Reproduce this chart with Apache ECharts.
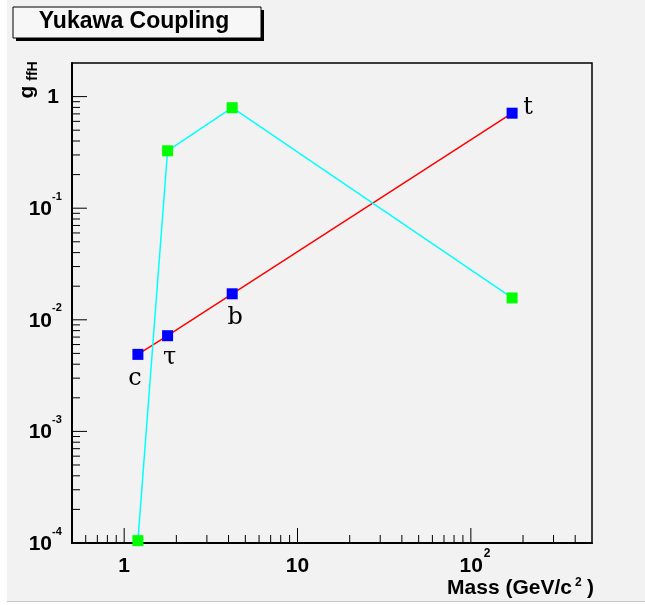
<!DOCTYPE html>
<html>
<head>
<meta charset="utf-8">
<script src="https://cdn.jsdelivr.net/npm/echarts@6/dist/echarts.min.js"></script>
<style>
html,body{margin:0;padding:0;background:#ffffff;}
#bg{position:absolute;left:7px;top:0;width:638px;height:601px;background:#f2f2f2;border-bottom:1px solid #c8c8c8;}
#chart{position:absolute;left:0;top:0;width:645px;height:605px;}
</style>
</head>
<body>
<div id="bg"></div>
<div id="chart"></div>
<script>
// ---- data ----
const fermionNames = ['c', 'τ', 'b', 't'];
const fermionMass = [1.2, 1.78, 4.2, 173];
const yukawaCoupling = [0.0049, 0.0072, 0.0171, 0.71];
const greenMass = [1.2, 1.78, 4.2, 173];
const greenValues = [0.000105, 0.327, 0.795, 0.0157];
const xTickValues = [0.6,0.7,0.8,0.9,1,2,3,4,5,6,7,8,9,10,20,30,40,50,60,70,80,90,100,200,300,400];
const yTickValues = [0.0001,0.0002,0.0003,0.0004,0.0005,0.0006,0.0007,0.0008,0.0009,
  0.001,0.002,0.003,0.004,0.005,0.006,0.007,0.008,0.009,
  0.01,0.02,0.03,0.04,0.05,0.06,0.07,0.08,0.09,
  0.1,0.2,0.3,0.4,0.5,0.6,0.7,0.8,0.9,1];
const xMin = 0.5, xMax = 500, yMin = 0.0001, yMax = 2;
const titleText = 'Yukawa Coupling';
const xAxisTitle = 'Mass (GeV/c';

const chart = echarts.init(document.getElementById('chart'), null, {renderer: 'canvas'});
const LBL = '"Liberation Sans", Arial, Helvetica, sans-serif';
function isMajor(v){ const l = Math.log10(v); return Math.abs(l - Math.round(l)) < 1e-9; }

const labelPos = {
  'c': [-3, 24], 'τ': [2, 22], 'b': [3, 24], 't': [16, -5]
};

function xTicksRender(params, api){
  const v = api.value(0);
  const p = api.coord([v, yMin]);
  const major = isMajor(v);
  const children = [{
    type: 'line', shape: {x1: p[0], y1: p[1], x2: p[0], y2: p[1] - (major ? 15 : 8)},
    style: {stroke: '#000', lineWidth: 1}
  }];
  if (major) {
    const e = Math.round(Math.log10(v));
    if (e <= 1) {
      children.push({type: 'text', x: p[0], y: p[1] + 23,
        style: {text: e === 0 ? '1' : '10', font: 'bold 21px ' + LBL, fill: '#000', align: 'center', verticalAlign: 'middle'}});
    } else {
      children.push({type: 'text', x: p[0] + 12, y: p[1] + 23,
        style: {text: '10', font: 'bold 21px ' + LBL, fill: '#000', align: 'right', verticalAlign: 'middle'}});
      children.push({type: 'text', x: p[0] + 13, y: p[1] + 17,
        style: {text: String(e), font: 'bold 12px ' + LBL, fill: '#000', align: 'left', verticalAlign: 'bottom'}});
    }
  }
  return {type: 'group', children};
}

function yTicksRender(params, api){
  const v = api.value(1);
  const p = api.coord([xMin, v]);
  const major = isMajor(v);
  const children = [{
    type: 'line', shape: {x1: p[0], y1: p[1], x2: p[0] + (major ? 15 : 8), y2: p[1]},
    style: {stroke: '#000', lineWidth: 1}
  }];
  if (major) {
    const e = Math.round(Math.log10(v));
    if (e === 0) {
      children.push({type: 'text', x: p[0] - 13, y: p[1] + 1,
        style: {text: '1', font: 'bold 21px ' + LBL, fill: '#000', align: 'right', verticalAlign: 'middle'}});
    } else {
      children.push({type: 'text', x: p[0] - 20, y: p[1] + 1,
        style: {text: '10', font: 'bold 21px ' + LBL, fill: '#000', align: 'right', verticalAlign: 'middle'}});
      children.push({type: 'text', x: p[0] - 20, y: p[1] - 6,
        style: {text: String(e), font: 'bold 11px ' + LBL, fill: '#000', align: 'left', verticalAlign: 'bottom'}});
    }
  }
  return {type: 'group', children};
}

const option = {
  animation: false,
  backgroundColor: 'transparent',
  grid: {left: 72, right: 53, top: 63, bottom: 62, show: true, borderColor: '#000', borderWidth: 1.5, backgroundColor: 'transparent'},
  xAxis: {
    type: 'log', logBase: 10, min: xMin, max: xMax,
    axisLine: {show: true, lineStyle: {color: '#000', width: 2}},
    axisTick: {show: false}, axisLabel: {show: false}, splitLine: {show: false}, minorTick: {show: false}
  },
  yAxis: {
    type: 'log', logBase: 10, min: yMin, max: yMax,
    axisLine: {show: true, lineStyle: {color: '#000', width: 2}},
    axisTick: {show: false}, axisLabel: {show: false}, splitLine: {show: false}, minorTick: {show: false}
  },
  graphic: [
    {type: 'rect', shape: {x: 16, y: 10, width: 248, height: 31}, style: {fill: '#000'}},
    {type: 'rect', shape: {x: 13, y: 7, width: 248, height: 31}, style: {fill: '#f7f7f7', stroke: '#000', lineWidth: 1}},
    {type: 'text', x: 134, y: 22, style: {text: titleText, font: 'bold 23px ' + LBL, fill: '#000', align: 'center', verticalAlign: 'middle'}},
    {type: 'text', x: 572, y: 588, style: {text: xAxisTitle, font: 'bold 21px ' + LBL, fill: '#000', align: 'right', verticalAlign: 'middle'}},
    {type: 'text', x: 575, y: 589, style: {text: '2', font: 'bold 12px ' + LBL, fill: '#000', align: 'left', verticalAlign: 'bottom'}},
    {type: 'text', x: 594, y: 588, style: {text: ')', font: 'bold 21px ' + LBL, fill: '#000', align: 'right', verticalAlign: 'middle'}},
    {type: 'text', x: 27, y: 92, rotation: Math.PI/2, style: {text: 'g', font: 'bold 21px ' + LBL, fill: '#000', align: 'center', verticalAlign: 'middle'}},
    {type: 'text', x: 33, y: 71, rotation: Math.PI/2, style: {text: 'ffH', font: 'bold 14px ' + LBL, fill: '#000', align: 'center', verticalAlign: 'middle'}}
  ],
  series: [
    {type: 'custom', coordinateSystem: 'cartesian2d', clip: false, silent: true,
     data: xTickValues.map(v => [v, yMin]), renderItem: xTicksRender, z: 1},
    {type: 'custom', coordinateSystem: 'cartesian2d', clip: false, silent: true,
     data: yTickValues.map(v => [xMin, v]), renderItem: yTicksRender, z: 1},
    {type: 'line', z: 3,
     data: fermionMass.map((m, i) => ({
       value: [m, yukawaCoupling[i]], name: fermionNames[i],
       label: {show: true, position: 'inside', offset: labelPos[fermionNames[i]], formatter: '{b}',
         fontFamily: '"DejaVu Serif", serif', fontSize: 24, color: '#000'}
     })),
     symbol: 'rect', symbolSize: 11, showAllSymbol: true,
     lineStyle: {color: '#ff0000', width: 1.5},
     itemStyle: {color: '#0000ff'}},
    {type: 'line', z: 4,
     data: greenMass.map((m, i) => [m, greenValues[i]]),
     symbol: 'rect', symbolSize: 11, showAllSymbol: true, clip: false,
     lineStyle: {color: '#00ffff', width: 1.5},
     itemStyle: {color: '#00ff00'}}
  ]
};
chart.setOption(option);
</script>
</body>
</html>
